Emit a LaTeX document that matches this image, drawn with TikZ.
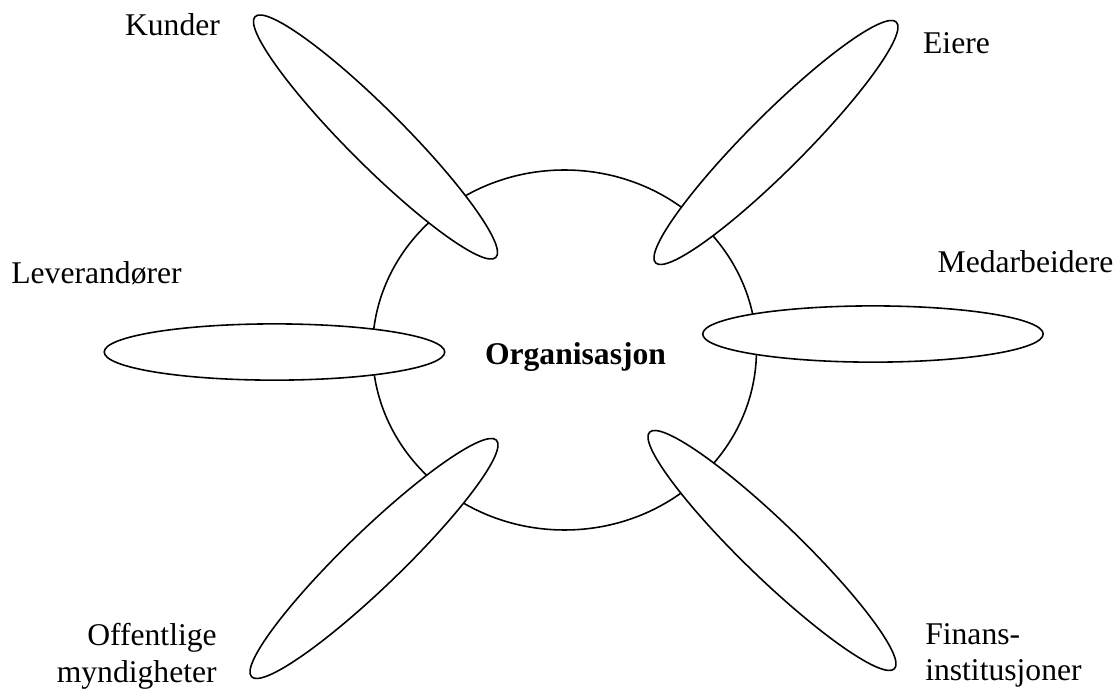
\documentclass[tikz,border=0pt]{standalone}
\usepackage{fontspec}
\setmainfont{Liberation Serif}
\usetikzlibrary{shapes.geometric}
\begin{document}
\begin{tikzpicture}[line width=0.6pt,
    petal/.style={ellipse, draw, fill=white, inner sep=0pt, minimum width=4.54cm, minimum height=0.75cm},
    lbl/.style={inner sep=0pt, font=\fontsize{12}{13.7}\selectfont}]
  \useasboundingbox (-7.527,-4.547) rectangle (7.407,4.667);
  % the organisation in the middle
  \node[ellipse, draw, inner sep=0pt, minimum width=5.12cm, minimum height=4.8cm] (org) at (0,0) {};
  \node[lbl, anchor=base, font=\bfseries\fontsize{12}{13.7}\selectfont] (orgname) at (0.147,-0.2) {Organisasjon};
  % petals
  \node[petal, rotate=-45] (kunder) at (-2.52,2.84) {};
  \node[petal, rotate=45] (eiere) at (2.82,2.767) {};
  \node[petal] (leverandorer) at (-3.867,-0.027) {};
  \node[petal] (medarbeidere) at (4.113,0.213) {};
  \node[petal, rotate=44] (offentlige) at (-2.54,-2.78) {};
  \node[petal, rotate=-44] (finans) at (2.767,-2.673) {};
  % labels
  \node[lbl, anchor=base] (kunderlbl) at (-5.227,4.187) {Kunder};
  \node[lbl, anchor=base] (eierelbl) at (5.227,3.96) {Eiere};
  \node[lbl, anchor=base] (leverandorerlbl) at (-6.24,0.893) {Leverandører};
  \node[lbl, anchor=base] (medarbeiderelbl) at (6.147,1.04) {Medarbeidere};
  \node[lbl, anchor=base east, align=right] (offentligelbl) at (-4.627,-4.427) {Offentlige\\myndigheter};
  \node[lbl, anchor=base west, align=left] (finanslbl) at (4.8,-4.413) {Finans-\\institusjoner};
\end{tikzpicture}
\end{document}
